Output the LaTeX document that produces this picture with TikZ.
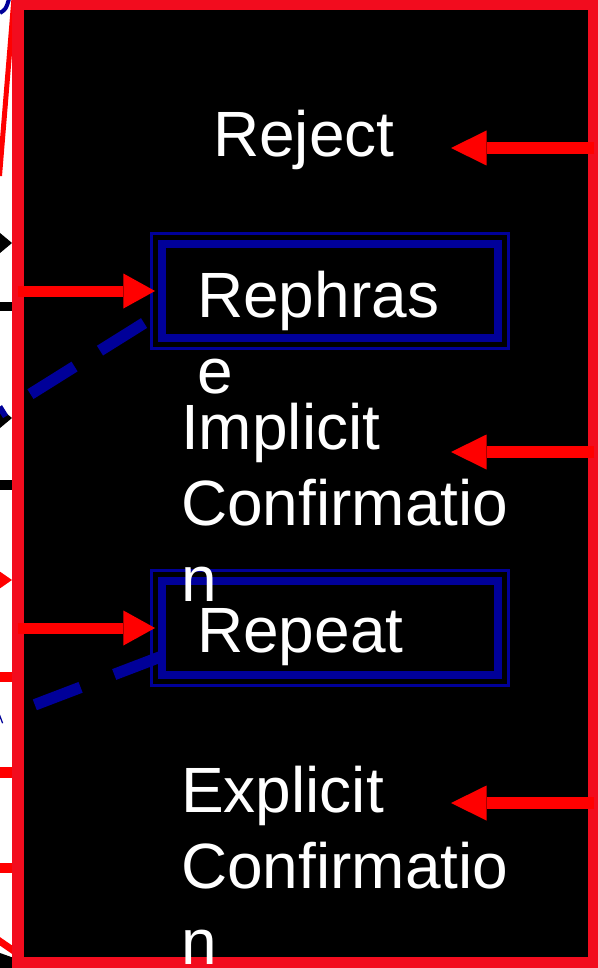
\documentclass[tikz,border=0pt]{standalone}
\usepackage{fontspec}
\setmainfont{Liberation Sans}
\usetikzlibrary{arrows.meta}

\definecolor{framered}{RGB}{242,12,30}
\definecolor{arrowred}{RGB}{255,0,0}
\definecolor{navy}{RGB}{0,0,153}

\tikzset{
  panel/.style={fill=black, inner sep=0pt, minimum width=576pt, minimum height=959pt},
  frameline/.style={draw=framered, line width=12pt},
  choicebox/.style={draw=navy, line width=6pt, inner sep=0pt,
    minimum width=338pt, minimum height=96pt},
  thinrule/.style={draw=navy, line width=2.4pt},
  linkdash/.style={draw=navy, line width=11.5pt},
  inarrow/.style={draw=arrowred, line width=11pt,
    -{Triangle[length=31.6pt, width=35pt, line width=0pt]}},
  backarrow/.style={draw=arrowred, line width=11.5pt,
    -{Triangle[length=35.5pt, width=35pt, line width=0pt]}},
  optext/.style={text=white, inner sep=0pt, anchor=base west, align=left,
    font=\fontsize{64}{76}\selectfont}
}

\begin{document}
\begin{tikzpicture}[x=1pt, y=-1pt]
  % page area
  \fill[white] (0,0) rectangle (597,968);
  \useasboundingbox (0,0) rectangle (597,968);

  % pieces of neighbouring shapes on the left margin
  \draw[navy, line width=4pt] (0,13) .. controls (6,9) .. (9,-1);
  \draw[arrowred, line width=5pt] (14,-2) -- (-0.5,176);
  \fill[black] (12,243) -- (-6,228) -- (-6,258) -- cycle;
  \draw[black, line width=9pt] (0,306.5) -- (18,306.5);
  \fill[black] (12,418) -- (-6,403) -- (-6,433) -- cycle;
  \draw[black, line width=10pt] (0,485) -- (18,485);
  \fill[arrowred] (12,580) -- (-6,567.5) -- (-6,592.5) -- cycle;
  \draw[arrowred, line width=10pt] (0,677) -- (18,677);
  \draw[arrowred, line width=11pt] (0,772.5) -- (18,772.5);
  \draw[arrowred, line width=10pt] (0,868) -- (18,868);
  \fill[black] (0,953) -- (14,958) -- (14,968) -- (0,968) -- cycle;
  \draw[arrowred, line width=7pt] (-2,940) -- (14,951);

  % main panel
  \node[panel] (panel) at (306,483.5) {};

  % option boxes (thick middle rule plus two thin rules)
  \node[choicebox] (rbox) at (330,291) {};
  \node[choicebox] (pbox) at (330,628) {};
  \foreach \b in {rbox,pbox}{
    \draw[thinrule] ([shift={(-6.5,-6.5)}]\b.north west) rectangle ([shift={(6.5,6.5)}]\b.south east);
    \draw[thinrule] ([shift={(6.5,6.5)}]\b.north west) rectangle ([shift={(-6.5,-6.5)}]\b.south east);
  }

  % dashed links leaving the boxes
  \coordinate (d1end) at (0,413.2);
  \coordinate (d2end) at (0,718.1);
  \draw[linkdash, dash pattern=on 52pt off 30pt, dash phase=69.1pt]
    ([shift={(-3,25.2)}]rbox.west) -- (d1end);
  \draw[linkdash, dash pattern=on 49pt off 36pt]
    ([shift={(2,29)}]pbox.west) -- (d2end);

  % panel border
  \draw[frameline] (panel.north west) rectangle (panel.south east);

  % arrows into the boxes
  \draw[inarrow] (panel.west |- rbox.west) -- ([xshift=-3pt]rbox.west);
  \draw[inarrow] (panel.west |- pbox.west) -- ([xshift=-3pt]pbox.west);

  % arrows coming in from the right border
  \coordinate (t1) at (451,148);
  \coordinate (t2) at (451,452);
  \coordinate (t3) at (451,803);
  \draw[backarrow] (panel.east |- t1) -- (t1);
  \draw[backarrow] (panel.east |- t2) -- (t2);
  \draw[backarrow] (panel.east |- t3) -- (t3);

  % labels (multi-line labels are placed by the baseline of their last line)
  \node[optext] (reject) at (213,157) {Reject};
  \node[optext] (rephrase) at (197,393) {Rephras\\e};
  \node[optext] (implicit) at (181,601) {Implicit\\Confirmatio\\n};
  \node[optext] (repeat) at (197,652) {Repeat};
  \node[optext] (explicit) at (181,964) {Explicit\\Confirmatio\\n};
\end{tikzpicture}
\end{document}
